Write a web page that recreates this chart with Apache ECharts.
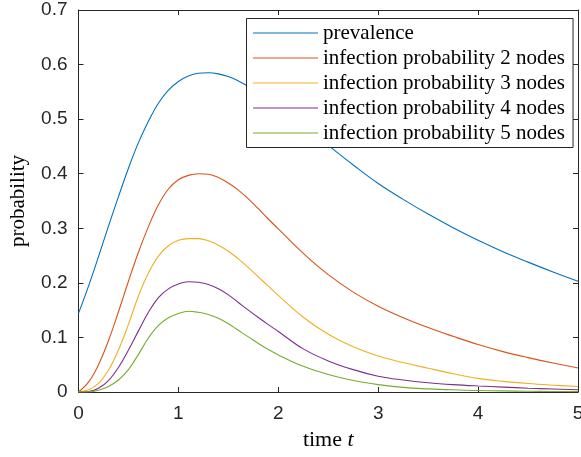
<!DOCTYPE html>
<html>
<head>
<meta charset="utf-8">
<script src="https://cdn.jsdelivr.net/npm/echarts@6/dist/echarts.min.js"></script>
<style>
html,body{margin:0;padding:0;background:#fff;}
#c{width:581px;height:457px;}
</style>
</head>
<body>
<div id="c"></div>
<script>
const time = [0,0.1,0.2,0.3,0.4,0.5,0.6,0.7,0.8,0.9,1.0,1.1,1.2,1.3,1.4,1.5,1.6,1.7,1.8,1.9,2.0,2.25,2.5,2.75,3.0,3.25,3.5,3.75,4.0,4.25,4.5,4.75,5.0];
const prevalence = [0.144,0.194,0.248,0.304,0.358,0.410,0.457,0.496,0.529,0.553,0.569,0.579,0.584,0.585,0.583,0.578,0.570,0.560,0.549,0.537,0.524,0.489,0.452,0.416,0.382,0.353,0.326,0.301,0.278,0.257,0.238,0.220,0.203];
const prob2 = [0,0.018,0.050,0.094,0.147,0.203,0.256,0.303,0.343,0.372,0.389,0.397,0.400,0.399,0.393,0.383,0.370,0.354,0.336,0.317,0.299,0.254,0.215,0.183,0.157,0.136,0.118,0.102,0.087,0.074,0.063,0.053,0.044];
const prob3 = [0,0.004,0.016,0.040,0.077,0.124,0.176,0.218,0.249,0.268,0.278,0.281,0.281,0.277,0.269,0.258,0.244,0.228,0.211,0.194,0.177,0.137,0.106,0.083,0.066,0.054,0.0435,0.0335,0.025,0.0195,0.0155,0.0125,0.010];
const prob4 = [0,0.001,0.007,0.021,0.045,0.077,0.112,0.146,0.173,0.189,0.198,0.202,0.201,0.197,0.189,0.178,0.164,0.150,0.1365,0.1235,0.111,0.079,0.057,0.041,0.029,0.022,0.017,0.0135,0.011,0.009,0.007,0.0055,0.0042];
const prob5 = [0,0.0003,0.0033,0.010,0.022,0.041,0.069,0.099,0.122,0.136,0.144,0.148,0.146,0.142,0.135,0.125,0.113,0.101,0.089,0.078,0.068,0.047,0.032,0.021,0.0135,0.0085,0.0058,0.004,0.0028,0.002,0.0014,0.001,0.0007];
const seriesNames = ['prevalence','infection probability 2 nodes','infection probability 3 nodes','infection probability 4 nodes','infection probability 5 nodes'];
const seriesColors = ['#0072BD','#D95319','#EDB120','#7E2F8E','#77AC30'];
const xTicks = {min:0,max:5,interval:1};
const yTicks = {min:0,max:0.7,interval:0.1};

const allValues = [prevalence,prob2,prob3,prob4,prob5];
const axisColor = '#262626';
const serif = 'Liberation Serif, Times New Roman, serif';
const tickFont = {fontFamily:'Liberation Sans, Arial, sans-serif', fontSize:19, color:axisColor};

const chart = echarts.init(document.getElementById('c'), null, {renderer:'canvas'});
const baseAxis = {
  axisLine:{show:true,onZero:false,lineStyle:{color:axisColor,width:1}},
  axisTick:{show:true,inside:true,length:5,lineStyle:{color:axisColor,width:1}},
  splitLine:{show:false}
};
chart.setOption({
  animation:false,
  backgroundColor:'#fff',
  grid:{left:78.5,right:3,top:10,bottom:65,containLabel:false,outerBoundsMode:'none'},
  legend:{
    orient:'vertical',
    left:246.5, top:18.5,
    padding:[4,8,4,6],
    itemGap:4,
    itemWidth:65,
    itemHeight:14,
    itemStyle:{opacity:0},
    lineStyle:{width:1},
    backgroundColor:'#fff',
    borderColor:axisColor,
    borderWidth:1,
    borderRadius:0,
    textStyle:{fontFamily:serif,fontSize:21,lineHeight:20,color:'#000',padding:[0,0,0,0]},
    data:seriesNames
  },
  xAxis:[
    Object.assign({}, baseAxis, {type:'value',position:'bottom',min:xTicks.min,max:xTicks.max,interval:xTicks.interval,
      axisLabel:Object.assign({margin:12},tickFont),
      name:'time {i|t}',nameLocation:'middle',nameGap:37,
      nameTextStyle:{fontFamily:serif,fontSize:22,color:'#000',
        rich:{i:{fontFamily:serif,fontSize:22,fontStyle:'italic',color:'#000'}}}}),
    Object.assign({}, baseAxis, {type:'value',position:'top',min:xTicks.min,max:xTicks.max,interval:xTicks.interval,axisLabel:{show:false}})
  ],
  yAxis:[
    Object.assign({}, baseAxis, {type:'value',position:'left',min:yTicks.min,max:yTicks.max,interval:yTicks.interval,
      axisLabel:Object.assign({margin:11},tickFont),
      name:'probability',nameLocation:'middle',nameGap:50,nameRotate:90,
      nameTextStyle:{fontFamily:serif,fontSize:21,color:'#000'}}),
    Object.assign({}, baseAxis, {type:'value',position:'right',min:yTicks.min,max:yTicks.max,interval:yTicks.interval,axisLabel:{show:false}})
  ],
  series: allValues.map((vals,k)=>({
    type:'line',
    name:seriesNames[k],
    xAxisIndex:0,yAxisIndex:0,
    data:time.map((t,i)=>[t,vals[i]]),
    smooth:0.4,
    symbol:'none',
    lineStyle:{color:seriesColors[k],width:1.1},
    itemStyle:{color:seriesColors[k]},
    z:2+k
  }))
});
</script>
</body>
</html>
